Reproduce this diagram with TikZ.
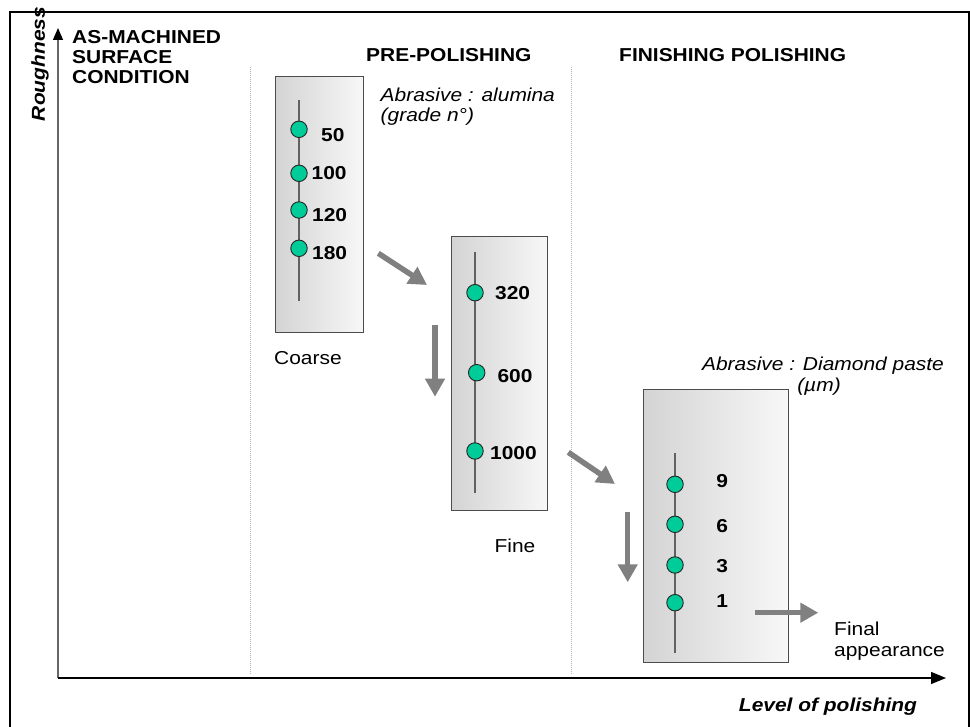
\documentclass[tikz,border=0pt]{standalone}
\usepackage{fontspec}
\setmainfont{Liberation Sans}[FakeStretch=1.12]
\usetikzlibrary{arrows.meta,shadings}
\definecolor{dotgreen}{RGB}{0,204,153}
\definecolor{arrgray}{RGB}{128,128,128}
\begin{document}
\begin{tikzpicture}[x=1pt,y=-1pt,
  txt/.style={inner sep=0pt, font=\fontsize{18.7}{20.5}\selectfont},
  hd/.style={inner sep=0pt, font=\fontsize{18.7}{20.5}\selectfont\bfseries},
  itx/.style={inner sep=0pt, font=\fontsize{18.7}{20.5}\selectfont\itshape},
  num/.style={inner sep=0pt, anchor=base west, font=\fontsize{18.7}{20.5}\selectfont\bfseries},
  stage/.style={draw=black!70, line width=1pt, left color=black!17, right color=black!3,
    inner sep=0pt, anchor=north west},
  dot/.style={circle, draw=black!85, fill=dotgreen, minimum size=16.5pt, inner sep=0pt, line width=0.9pt},
  rail/.style={draw=black!62, line width=1.6pt},
  bigarrow/.style={draw=arrgray, line width=5.5pt, -{Triangle[width=19pt,length=18pt]}},
  sep/.style={draw=black!30, line width=1pt, densely dotted},
  axisline/.style={line width=1.2pt}
]
\useasboundingbox (0,0) rectangle (970,727);
% outer frame
\draw[line width=1.8pt] (10,730) -- (10,12) -- (969,12) -- (969,730);

% separators
\coordinate (s1t) at (250,67); \coordinate (s1b) at (250,675);
\coordinate (s2t) at (571.5,67); \coordinate (s2b) at (571.5,675);
\draw[sep] (s1t) -- (s1b);
\draw[sep] (s2t) -- (s2b);

% axes
\coordinate (O) at (58,678);
\coordinate (ytip) at (58,28);
\coordinate (xtip) at (946,678);
\draw[axisline, draw=black!60, -{Triangle[width=10pt,length=12pt,color=black]}] (O) -- (ytip);
\draw[axisline, -{Triangle[width=12pt,length=15pt]}] (O) -- (xtip);
\node[hd, font=\fontsize{18.7}{20.5}\selectfont\bfseries\itshape, rotate=90, anchor=base] (ylab) at (45,64) {Roughness};
\node[hd, font=\fontsize{18.7}{20.5}\selectfont\bfseries\itshape, anchor=base] (xlab) at (828,711) {Level of polishing};

% headings
\node[hd, anchor=base west] (h1a) at (72,43.3) {AS-MACHINED};
\node[hd, anchor=base west] (h1b) at (72,63.3) {SURFACE};
\node[hd, anchor=base west] (h1c) at (72,83.3) {CONDITION};
\node[hd, anchor=base west] (h2) at (366,61.5) {PRE-POLISHING};
\node[hd, anchor=base west] (h3) at (619,61.5) {FINISHING POLISHING};

% abrasive labels
\node[itx, anchor=base west] (ab1a) at (380.5,101.5) {Abrasive : alumina};
\node[itx, anchor=base west] (ab1b) at (380.5,122) {(grade n°)};
\node[itx, anchor=base] (ab2a) at (823,371) {Abrasive : Diamond paste};
\node[itx, anchor=base] (ab2b) at (819,391.5) {(µm)};

% stage boxes
\node[stage, minimum width=88.5pt, minimum height=256.5pt] (b1) at (274.5,76) {};
\node[stage, minimum width=96pt, minimum height=274pt] (b2) at (451,236) {};
\node[stage, minimum width=145pt, minimum height=272.7pt] (b3) at (642.7,389) {};

% box 1
\coordinate (r1t) at (299,100); \coordinate (r1b) at (299,300.7);
\draw[rail] (r1t) -- (r1b);
\node[dot] (c50) at (299,129.3) {};
\node[dot] (c100) at (299,173.3) {};
\node[dot] (c120) at (299,210) {};
\node[dot] (c180) at (299,248.3) {};
\node[num] (l50) at (321,141.5) {50};
\node[num] (l100) at (311.5,180) {100};
\node[num] (l120) at (312,221.5) {120};
\node[num] (l180) at (312,259.3) {180};
\node[txt, anchor=base west] (coarse) at (274,365) {Coarse};

% box 2
\coordinate (r2t) at (475,252.3); \coordinate (r2b) at (475,492.7);
\draw[rail] (r2t) -- (r2b);
\node[dot] (c320) at (475,292.7) {};
\node[dot] (c600) at (476.7,372.7) {};
\node[dot] (c1000) at (475,451) {};
\node[num] (l320) at (495,299.5) {320};
\node[num] (l600) at (497.3,383) {600};
\node[num] (l1000) at (490,460) {1000};
\node[txt, anchor=base] (fine) at (515,552) {Fine};

% box 3
\coordinate (r3t) at (675,453.3); \coordinate (r3b) at (675,653.3);
\draw[rail] (r3t) -- (r3b);
\node[dot] (c9) at (675,484.3) {};
\node[dot] (c6) at (675,524.3) {};
\node[dot] (c3) at (675,565) {};
\node[dot] (c1) at (675,602.7) {};
\node[num, anchor=base] (l9) at (722.3,487) {9};
\node[num, anchor=base] (l6) at (722.3,532) {6};
\node[num, anchor=base] (l3) at (722.3,572) {3};
\node[num, anchor=base] (l1) at (722.3,607) {1};
\node[txt, anchor=base west] (final1) at (834,635) {Final};
\node[txt, anchor=base west] (final2) at (834,656) {appearance};

% big arrows
\coordinate (a1s) at (378.3,253.3); \coordinate (a1e) at (427,285);
\coordinate (a2s) at (435,325); \coordinate (a2e) at (435,396.7);
\coordinate (a3s) at (568.3,452.3); \coordinate (a3e) at (615,484);
\coordinate (a4s) at (627.7,512.3); \coordinate (a4e) at (627.7,582.3);
\coordinate (a5s) at (755,612.7); \coordinate (a5e) at (818.3,612.7);
\draw[bigarrow] (a1s) -- (a1e);
\draw[bigarrow] (a2s) -- (a2e);
\draw[bigarrow] (a3s) -- (a3e);
\draw[bigarrow] (a4s) -- (a4e);
\draw[bigarrow] (a5s) -- (a5e);
\end{tikzpicture}
\end{document}
